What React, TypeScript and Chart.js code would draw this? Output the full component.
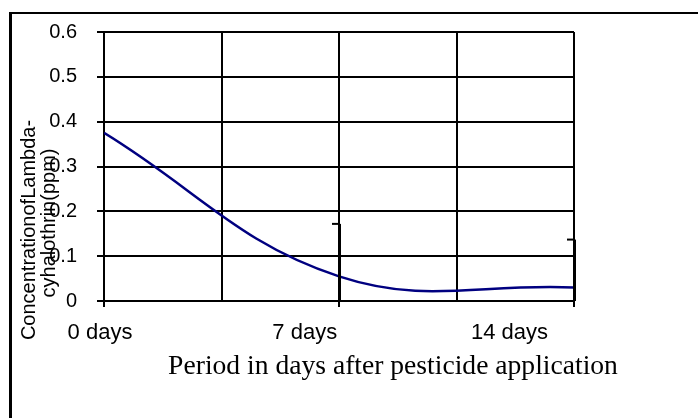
import React, { useEffect, useRef } from "react";
import { Chart, registerables } from "chart.js";

Chart.register(...registerables);

// ---- data ----
const days = [0, 7, 14];
const dayLabels = ["0 days", "7 days", "14 days"];
const concentration = [0.375, 0.055, 0.03];
const errorValues = [0, 0.117, 0.107];
const yTitleLines = ["ConcentrationofLambda-", "cyhalothrin(ppm)"];
const xTitle = "Period in days after pesticide application";

const errorBarPlugin = {
  id: "errorBars",
  afterDatasetsDraw(chart: any) {
    const xs = chart.scales.x;
    const ys = chart.scales.y;
    const ctx = chart.ctx;
    ctx.save();
    ctx.strokeStyle = "#000";
    days.forEach((d, i) => {
      const e = errorValues[i];
      if (!e) return;
      const v = concentration[i];
      const x = xs.getPixelForValue(d);
      const yTop = ys.getPixelForValue(v + e);
      const yBot = ys.getPixelForValue(Math.max(0, v - e));
      ctx.lineWidth = 3;
      ctx.beginPath();
      ctx.moveTo(x + 0.5, yTop);
      ctx.lineTo(x + 0.5, yBot);
      ctx.stroke();
      ctx.lineWidth = 2;
      ctx.beginPath();
      ctx.moveTo(x - 7, yTop);
      ctx.lineTo(x, yTop);
      ctx.stroke();
    });
    ctx.restore();
  },
};

const titlesPlugin = {
  id: "titles",
  afterDraw(chart: any) {
    const ctx = chart.ctx;
    ctx.save();
    ctx.fillStyle = "#000";
    ctx.font = "20px 'Liberation Sans', Arial, sans-serif";
    ctx.textAlign = "center";
    ctx.textBaseline = "alphabetic";
    const ySpots = [
      { x: 35, y: 230 },
      { x: 55, y: 223 },
    ];
    yTitleLines.forEach((t, i) => {
      ctx.save();
      ctx.translate(ySpots[i].x, ySpots[i].y);
      ctx.rotate(-Math.PI / 2);
      ctx.fillText(t, 0, 0);
      ctx.restore();
    });
    ctx.font = "27.6px 'Liberation Serif', 'Times New Roman', serif";
    ctx.fillText(xTitle, 393, 374);
    ctx.restore();
  },
};

export default function App() {
  const ref = useRef<HTMLCanvasElement | null>(null);
  useEffect(() => {
    if (!ref.current) return;
    const chart = new Chart(ref.current, {
      type: "line",
      data: {
        datasets: [
          {
            data: days.map((d, i) => ({ x: d, y: concentration[i] })),
            borderColor: "#000080",
            borderWidth: 2.5,
            pointRadius: 0,
            tension: 0.4,
            fill: false,
            capBezierPoints: false,
          } as any,
        ],
      },
      options: {
        animation: false,
        responsive: false,
        devicePixelRatio: 1,
        layout: { padding: { left: 0, right: 124, top: 29, bottom: 0 } },
        plugins: { legend: { display: false }, tooltip: { enabled: false } },
        scales: {
          x: {
            type: "linear",
            position: "bottom",
            min: 0,
            max: 14,
            weight: 0,
            ticks: { stepSize: 3.5, display: false },
            grid: {
              color: "#000",
              lineWidth: 2,
              tickLength: 6,
              tickWidth: 2,
              tickColor: (c: any) =>
                c.tick && c.tick.value % 7 === 0 ? "#000" : "rgba(0,0,0,0)",
            },
            border: { display: true, color: "#000", width: 2 },
            afterFit: (s: any) => {
              s.height = 7;
            },
          },
          xl: {
            type: "linear",
            position: "bottom",
            min: 0.1367,
            max: 16.205,
            weight: 1,
            grid: { display: false },
            border: { display: false },
            afterBuildTicks: (s: any) => {
              s.ticks = days.map((v) => ({ value: v }));
            },
            ticks: {
              autoSkip: false,
              maxRotation: 0,
              padding: 4,
              color: "#000",
              font: { family: "'Liberation Sans', Arial, sans-serif", size: 22 },
              callback: (v: any) => {
                const i = days.indexOf(Number(v));
                return i >= 0 ? dayLabels[i] : "";
              },
            },
            afterFit: (s: any) => {
              s.height = 110;
            },
          },
          y: {
            type: "linear",
            min: 0,
            max: 0.6,
            ticks: {
              stepSize: 0.1,
              padding: 20,
              color: "#000",
              font: { family: "'Liberation Sans', Arial, sans-serif", size: 20 },
            },
            grid: { color: "#000", lineWidth: 2, tickLength: 7, tickColor: "#000" },
            border: { display: true, color: "#000", width: 2 },
            afterFit: (s: any) => {
              s.width = 104;
            },
          },
        },
      } as any,
      plugins: [errorBarPlugin, titlesPlugin],
    });
    return () => chart.destroy();
  }, []);

  return (
    <div
      style={{
        position: "fixed",
        left: 0,
        top: 0,
        width: 698,
        height: 418,
        background: "#fff",
      }}
    >
      <canvas ref={ref} width={698} height={418} style={{ position: "absolute", left: 0, top: 0 }} />
      <div
        style={{
          position: "absolute",
          left: 9,
          top: 12,
          right: 0,
          bottom: 0,
          borderLeft: "3px solid #000",
          borderTop: "2px solid #000",
          pointerEvents: "none",
        }}
      />
    </div>
  );
}
